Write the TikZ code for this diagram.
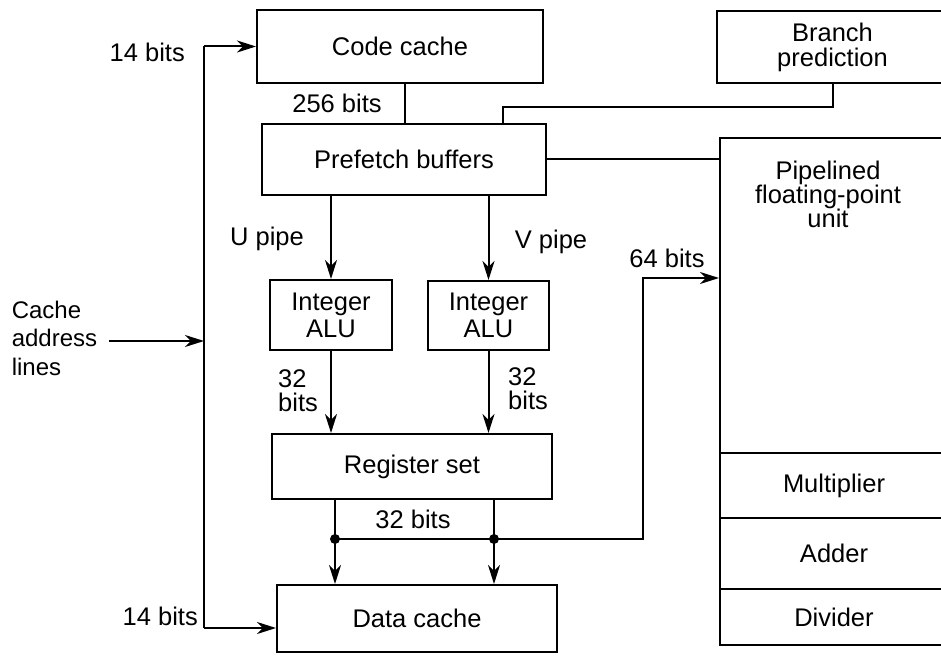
\documentclass[tikz,border=0pt]{standalone}
\usepackage{fontspec}
\setmainfont{Liberation Sans}
\usetikzlibrary{arrows.meta}

\begin{document}
\begin{tikzpicture}[x=1pt,y=-1pt,
  every node/.style={font=\fontsize{25.5}{25}\selectfont},
  box/.style={draw, line width=2pt, inner sep=0pt},
  lbl/.style={inner sep=0pt},
  wire/.style={line width=2pt},
  arr/.style={wire, -{Stealth[length=19pt,width=12pt,inset=6pt]}},
  junction/.style={circle, fill, inner sep=0pt, minimum size=10pt}
]
\useasboundingbox (0,0) rectangle (941,655);
\clip (0,0) rectangle (941,655);

% functional blocks
\node[box, minimum width=286pt, minimum height=73pt] (code) at (400,46.5) {Code cache};
\node[box, minimum width=231pt, minimum height=72pt, align=center] (bp) at (832.5,47) {Branch\\prediction};
\node[box, minimum width=284pt, minimum height=71pt] (pre) at (404,159.5) {Prefetch buffers};
\node[box, minimum width=122pt, minimum height=70pt, align=center,
      font=\fontsize{25.5}{27}\selectfont] (alu1) at (331,315) {Integer\\ALU};
\node[box, minimum width=121pt, minimum height=69pt, align=center,
      font=\fontsize{25.5}{27}\selectfont] (alu2) at (488.5,315.5) {Integer\\ALU};
\node[box, minimum width=280pt, minimum height=65pt] (reg) at (412,466.5) {Register set};
\node[box, minimum width=280pt, minimum height=67pt] (dc) at (417,618.5) {Data cache};

% floating-point unit and its stages
\node[box, minimum width=228pt, minimum height=507pt] (fp) at (834,391.5) {};
\node[lbl, align=center, font=\fontsize{25.5}{24}\selectfont] (fpt) at (828,194)
  {Pipelined\\floating-point\\unit};
\node[box, minimum width=228pt, minimum height=65pt] (mul) at (834,485.5) {Multiplier};
\node[box, minimum width=228pt, minimum height=71pt] (add) at (834,553.5) {Adder};
\node[box, minimum width=228pt, minimum height=56pt] (div) at (834,617) {Divider};

% address bus on the left
\coordinate (bustop) at (204,46.5);
\coordinate (busmid) at (204,341);
\coordinate (busbot) at (204,628);
\node[lbl, align=left, font=\fontsize{24}{28.5}\selectfont] (addr) at (54.5,338)
  {Cache\\address\\lines};
\draw[arr, shorten <=12pt] (addr.east |- busmid) -- (busmid);
\draw[wire] (busbot) -- (bustop);
\draw[arr] (bustop) -- (code.west);
\draw[arr] (busbot) -- (busbot -| dc.west);
\node[lbl, anchor=east] (b14t) at (185,52) {14 bits};
\node[lbl, anchor=east] (b14b) at (198,616) {14 bits};

% code cache to prefetch buffers
\coordinate (cp) at (405,0);
\draw[wire] (cp |- code.south) -- (cp |- pre.north);
\node[lbl] (b256) at (337,103) {256 bits};

% branch prediction to prefetch buffers
\coordinate (bpk) at (503,107);
\draw[wire] (bp.south) |- (bpk) -- (bpk |- pre.north);

% prefetch buffers to floating-point unit
\draw[wire] (pre.east) -- (pre.east -| fp.west);

% U and V pipes
\draw[arr] (pre.south -| alu1.north) -- (alu1.north);
\draw[arr] (pre.south -| alu2.north) -- (alu2.north);
\node[lbl, anchor=base] (upipe) at (267,245) {U pipe};
\node[lbl, anchor=base] (vpipe) at (551,248) {V pipe};

% ALU results into the register set
\draw[arr] (alu1.south) -- (alu1.south |- reg.north);
\draw[arr] (alu2.south) -- (alu2.south |- reg.north);
\node[lbl, align=left, font=\fontsize{25.5}{24}\selectfont] (b32a) at (298,390.5) {32\\bits};
\node[lbl, align=left, font=\fontsize{25.5}{24}\selectfont] (b32b) at (528,389) {32\\bits};

% register set to data cache and floating-point unit
\coordinate (j1) at (335,539);
\coordinate (j2) at (494,539);
\coordinate (k64) at (643,278);
\draw[wire] (j1 |- reg.south) -- (j1);
\draw[wire] (j2 |- reg.south) -- (j2);
\draw[arr] (j1) -- (j1 |- dc.north);
\draw[arr] (j2) -- (j2 |- dc.north);
\draw[wire] (j1) -- (j2);
\draw[arr] (j2) -| (k64) -- (k64 -| fp.west);
\node[junction] at (j1) {};
\node[junction] at (j2) {};
\node[lbl] (b32c) at (413,519.5) {32 bits};
\node[lbl, anchor=base] (b64) at (667,267) {64 bits};
\end{tikzpicture}
\end{document}
